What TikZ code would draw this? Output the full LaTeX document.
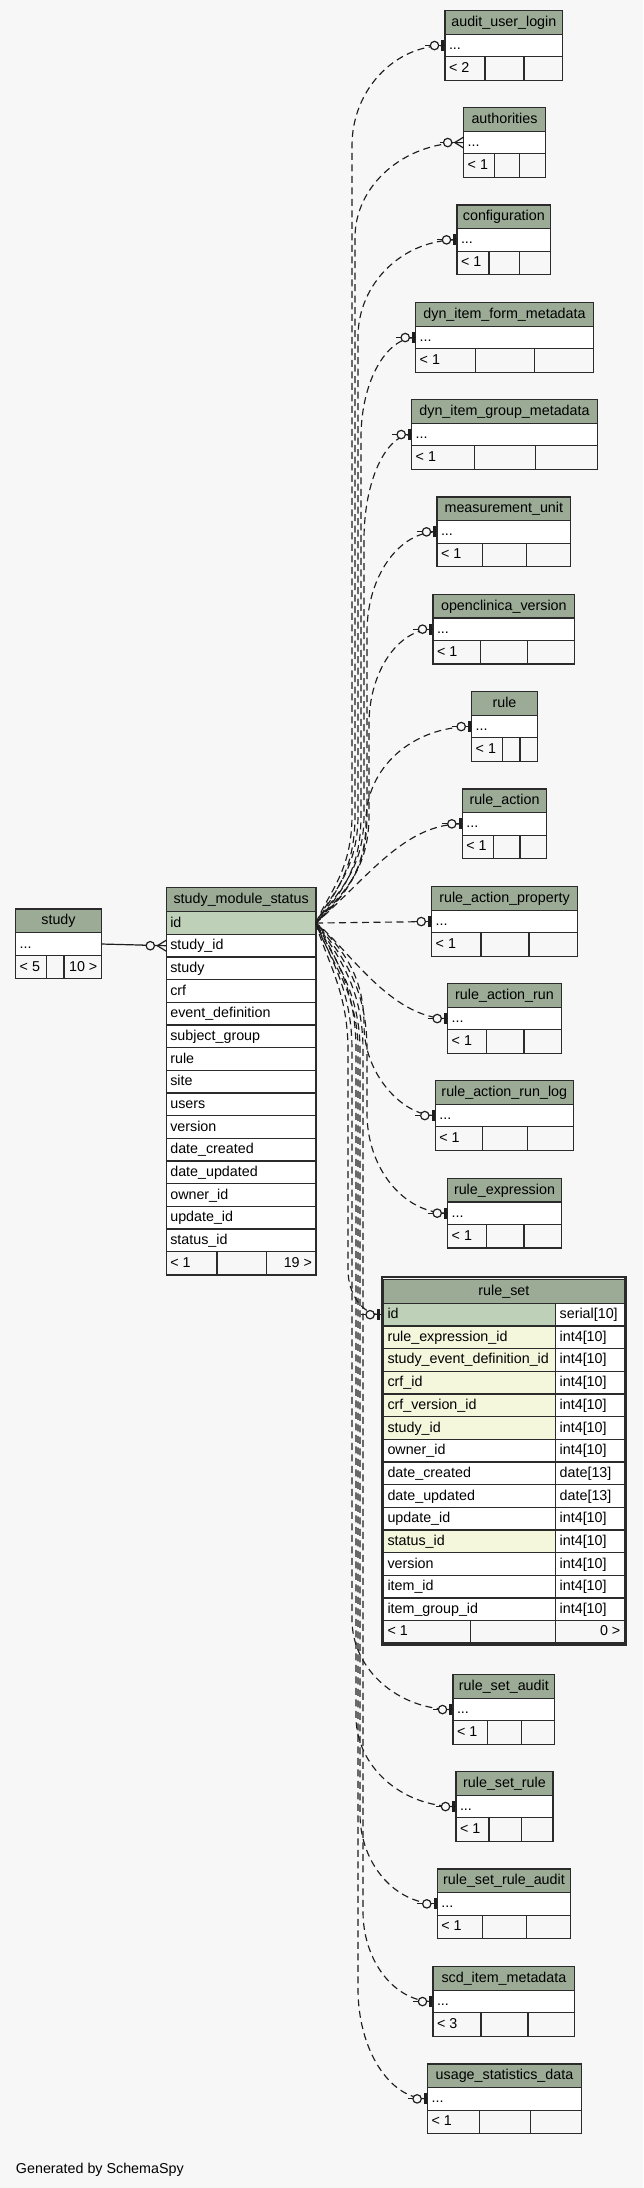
\documentclass[tikz,border=0pt]{standalone}
\usepackage{fontspec}
\setmainfont{Liberation Sans}
\definecolor{bg}{HTML}{F7F7F7}
\definecolor{hdr}{HTML}{9BAB96}
\definecolor{pk}{HTML}{BED1B8}
\definecolor{idx}{HTML}{F4F7DC}
\definecolor{bd}{HTML}{2B2B2B}
\definecolor{edgec}{HTML}{1E1E1E}
\newcommand\fsz{\fontsize{14.3}{17}\selectfont}
\tikzset{
 cbox/.style={draw=bd, line width=1.2pt, inner sep=0pt, outer sep=0pt, anchor=north west, rectangle},
 txt/.style={inner sep=0pt, outer sep=0pt, font=\fsz, text=black, text height=11pt, text depth=3pt},
 rel/.style={draw=edgec, line width=1.15pt, dash pattern=on 7pt off 4.5pt},
 srel/.style={draw=edgec, line width=1.2pt},
}
\newcommand\cellbox[6]{\pgfmathsetmacro\cw{#4-#2}\pgfmathsetmacro\ch{#5-#3}\node[cbox, fill=#6, minimum width=\cw pt, minimum height=\ch pt] (#1) at (#2,#3) {};}
\newcommand\cL[7]{\cellbox{#1}{#2}{#3}{#4}{#5}{#6}\node[txt, anchor=west] (#1-t) at ([xshift=4pt]#1.west) {#7};}
\newcommand\cR[7]{\cellbox{#1}{#2}{#3}{#4}{#5}{#6}\node[txt, anchor=east] (#1-t) at ([xshift=-4pt]#1.east) {#7};}
\newcommand\cC[7]{\cellbox{#1}{#2}{#3}{#4}{#5}{#6}\node[txt] (#1-t) at (#1.center) {#7};}
\newcommand\stdtbl[8]{%
 \pgfmathsetmacro\ya{#5+23.6}\pgfmathsetmacro\yb{#5+46.1}\pgfmathsetmacro\yc{#5+69.7}%
 \cC{#1-h}{#3}{#5}{#4}{\ya}{hdr}{#2}%
 \cL{#1-r}{#3}{\ya}{#4}{\yb}{white}{...}%
 \cL{#1-f1}{#3}{\yb}{#6}{\yc}{bg}{#8}%
 \cellbox{#1-f2}{#6}{\yb}{#7}{\yc}{bg}%
 \cellbox{#1-f3}{#7}{\yb}{#4}{\yc}{bg}}
\newcommand\zo[1]{%
 \draw[srel] ([xshift=-20pt]#1) -- (#1);
 \fill[edgec] ([xshift=-3.6pt,yshift=-5.5pt]#1) rectangle ([xshift=-0.7pt,yshift=5.5pt]#1);
 \draw[srel, fill=bg] ([xshift=-10.5pt]#1) circle (4.2pt);}
\newcommand\zm[1]{%
 \draw[srel] ([xshift=-24pt]#1) -- (#1);
 \draw[srel] ([xshift=-9pt]#1) -- ([yshift=5.5pt]#1) ([xshift=-9pt]#1) -- ([yshift=-5.5pt]#1);
 \draw[srel, fill=bg] ([xshift=-16pt]#1) circle (4.2pt);}
% #1 target, #2 xv, #3 ey, #4 Rv, #5 ex, #6 dash phase, #7 near-start x
\newcommand\upedge[7]{%
 \pgfmathsetmacro\ta{#3+#4}\pgfmathsetmacro\tb{#3+0.45*#4}\pgfmathsetmacro\tc{#5-0.55*(#5-#2)}%
 \draw[rel, dash phase=#6pt] (sms-0.east) .. controls (#7,893) and (#2,872) .. (#2,815) -- (#2,\ta) .. controls (#2,\tb) and (\tc,#3) .. (#1);}
\newcommand\dnedge[7]{%
 \pgfmathsetmacro\ta{#3-#4}\pgfmathsetmacro\tb{#3-0.45*#4}\pgfmathsetmacro\tc{#5-0.55*(#5-#2)}%
 \draw[rel, dash phase=#6pt] (sms-0.east) .. controls (#7,958) and (#2,990) .. (#2,1050) -- (#2,\ta) .. controls (#2,\tb) and (\tc,#3) .. (#1);}
\begin{document}
\begin{tikzpicture}[x=1pt,y=-1pt]
\useasboundingbox (0,0) rectangle (643,2188);
\fill[bg] (0,0) rectangle (643,2188);

% study
\cC{st-h}{15.7}{909}{101.3}{932.7}{hdr}{study}
\cL{st-r}{15.7}{932.7}{101.3}{955.3}{white}{...}
\cL{st-f1}{15.7}{955.3}{46.7}{978.7}{bg}{< 5}
\cellbox{st-f2}{46.7}{955.3}{64}{978.7}{bg}
\cR{st-f3}{64}{955.3}{101.3}{978.7}{bg}{10 >}

% study_module_status
\cC{sms-h}{166.3}{887.7}{316}{911.7}{hdr}{study\_module\_status}
\cL{sms-0}{166.3}{911.7}{316}{934.37}{pk}{id}
\foreach \t [count=\i] in {study\_id,study,crf,event\_definition,subject\_group,rule,site,users,version,date\_created,date\_updated,owner\_id,update\_id,status\_id}{
 \pgfmathsetmacro\yt{911.7+\i*22.667}\pgfmathsetmacro\yu{\yt+22.667}
 \cL{sms-\i}{166.3}{\yt}{316}{\yu}{white}{\t}}
\cL{sms-f1}{166.3}{1251.7}{217}{1275}{bg}{< 1}
\cellbox{sms-f2}{217}{1251.7}{266.7}{1275}{bg}
\cR{sms-f3}{266.7}{1251.7}{316}{1275}{bg}{19 >}

% right column tables
\stdtbl{t1}{audit\_user\_login}{445}{562.7}{10.7}{485}{524}{< 2}
\stdtbl{t2}{authorities}{463.7}{545.3}{107.7}{494.3}{519.7}{< 1}
\stdtbl{t3}{configuration}{457}{550.7}{205}{489}{519.7}{< 1}
\stdtbl{t4}{dyn\_item\_form\_metadata}{415.7}{593.3}{302.7}{475.7}{534.7}{< 1}
\stdtbl{t5}{dyn\_item\_group\_metadata}{411.7}{597.3}{399.7}{474.7}{535.7}{< 1}
\stdtbl{t6}{measurement\_unit}{437}{570.7}{497}{482.7}{526.7}{< 1}
\stdtbl{t7}{openclinica\_version}{433}{574.7}{594.3}{480.7}{527.7}{< 1}
\stdtbl{t8}{rule}{471.7}{537.3}{691.7}{502.7}{520}{< 1}
\stdtbl{t9}{rule\_action}{462.3}{546.7}{789}{493.3}{520}{< 1}
\stdtbl{t10}{rule\_action\_property}{431.7}{577.3}{886.7}{481}{529}{< 1}
\stdtbl{t11}{rule\_action\_run}{447.7}{561.3}{983.7}{486.7}{524}{< 1}
\stdtbl{t12}{rule\_action\_run\_log}{435.3}{573.3}{1080.7}{482.7}{527.7}{< 1}
\stdtbl{t13}{rule\_expression}{447.7}{561.3}{1178.3}{486.7}{524}{< 1}
\stdtbl{t15}{rule\_set\_audit}{453}{554.7}{1674.7}{487.7}{521.3}{< 1}
\stdtbl{t16}{rule\_set\_rule}{456}{553}{1771.7}{489}{521.3}{< 1}
\stdtbl{t17}{rule\_set\_rule\_audit}{437.3}{570.7}{1869}{482.7}{526.7}{< 1}
\stdtbl{t18}{scd\_item\_metadata}{433}{574.8}{1966.7}{481}{528}{< 3}
\stdtbl{t19}{usage\_statistics\_data}{427.6}{581.4}{2064}{479.7}{530.6}{< 1}

% rule_set (focused table)
\cC{rs-h}{383.5}{1279.5}{624.3}{1303.3}{hdr}{rule\_set}
\foreach \n/\f/\ty [count=\i from 0] in {id/pk/{serial[10]}, rule\_expression\_id/idx/{int4[10]}, study\_event\_definition\_id/idx/{int4[10]}, crf\_id/idx/{int4[10]}, crf\_version\_id/idx/{int4[10]}, study\_id/idx/{int4[10]}, owner\_id/white/{int4[10]}, date\_created/white/{date[13]}, date\_updated/white/{date[13]}, update\_id/white/{int4[10]}, status\_id/idx/{int4[10]}, version/white/{int4[10]}, item\_id/white/{int4[10]}, item\_group\_id/white/{int4[10]}}{
 \pgfmathsetmacro\yt{1303.3+\i*22.671}\pgfmathsetmacro\yu{\yt+22.671}
 \cL{rs-\i}{383.5}{\yt}{555.7}{\yu}{\f}{\n}
 \cL{rs-\i-ty}{555.7}{\yt}{624.3}{\yu}{white}{\ty}}
\cL{rs-f1}{383.5}{1620.7}{470.3}{1643}{bg}{< 1}
\cellbox{rs-f2}{470.3}{1620.7}{555.7}{1643}{bg}
\cR{rs-f3}{555.7}{1620.7}{624.3}{1643}{bg}{0 >}
\draw[bd, line width=2.4pt] (381.8,1277.2) rectangle (625.5,1644.8);
\coordinate (rsin) at ([xshift=-2.9pt]rs-0.west);

% relationships
\upedge{t1-r.west}{352}{45.55}{100}{445}{0}{328}
\upedge{t2-r.west}{355}{142.55}{95}{463.7}{3}{334}
\upedge{t3-r.west}{358}{239.85}{97}{457}{6}{331}
\upedge{t4-r.west}{361}{337.55}{100}{415.7}{9}{340}
\upedge{t5-r.west}{364}{434.55}{105}{411.7}{2}{336}
\upedge{t6-r.west}{367}{531.85}{100}{437}{5}{345}
\upedge{t7-r.west}{369}{629.15}{95}{433}{8}{342}
\draw[rel, dash phase=4pt] (sms-0.east) .. controls (340,900) and (366,874) .. (366,821) .. controls (366,768) and (412,726.55) .. (t8-r.west);
\draw[rel, dash phase=1pt] (sms-0.east) .. controls (370,875) and (405,823.85) .. (t9-r.west);
\draw[rel] (sms-0.east) -- (t10-r.west);
\draw[rel, dash phase=2pt] (sms-0.east) .. controls (345,945) and (390,1018.55) .. (t11-r.west);
\draw[rel, dash phase=7pt] (sms-0.east) .. controls (342,948) and (364,975) .. (364,1025) .. controls (364,1075) and (403,1115.55) .. (t12-r.west);
\dnedge{t13-r.west}{367}{1213.15}{100}{447.7}{5}{345}
\dnedge{rsin}{348}{1314.65}{45}{380.6}{0}{325}
\dnedge{t15-r.west}{352}{1709.55}{90}{453}{3}{330}
\dnedge{t16-r.west}{356}{1806.55}{90}{456}{9}{336}
\dnedge{t17-r.west}{360}{1903.85}{90}{437.3}{6}{333}
\dnedge{t18-r.west}{363}{2001.55}{90}{433}{1}{340}
\dnedge{t19-r.west}{358}{2098.85}{110}{427.6}{8}{328}
\draw[srel] (st-r.east) -- (sms-1.west);

% end markers
\zo{t1-r.west}
\zm{t2-r.west}
\zo{t3-r.west}
\zo{t4-r.west}
\zo{t5-r.west}
\zo{t6-r.west}
\zo{t7-r.west}
\zo{t8-r.west}
\zo{t9-r.west}
\zo{t10-r.west}
\zo{t11-r.west}
\zo{t12-r.west}
\zo{t13-r.west}
\zo{rsin}
\zo{t15-r.west}
\zo{t16-r.west}
\zo{t17-r.west}
\zo{t18-r.west}
\zo{t19-r.west}
\zm{sms-1.west}

\node[txt, anchor=west] (gen) at (16,2169) {Generated by SchemaSpy};
\end{tikzpicture}
\end{document}
